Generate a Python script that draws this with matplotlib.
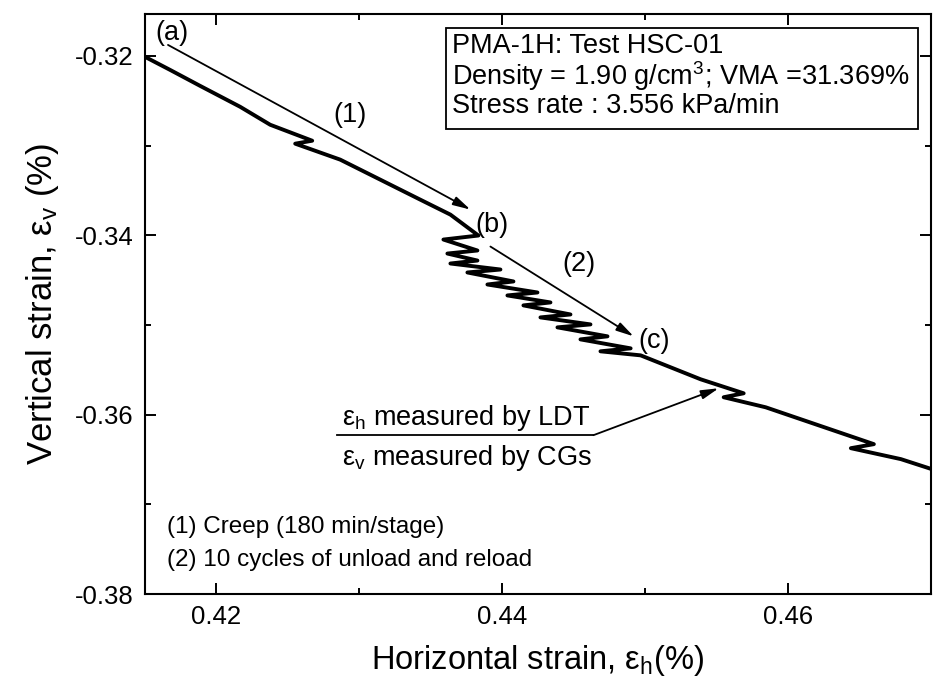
import numpy as np
import matplotlib.pyplot as plt
from matplotlib.patches import Rectangle
from matplotlib.ticker import MultipleLocator

plt.rcParams['font.family'] = ['Liberation Sans', 'DejaVu Sans']
plt.rcParams['mathtext.fontset'] = 'custom'
plt.rcParams['mathtext.rm'] = 'Liberation Sans'
plt.rcParams['mathtext.it'] = 'Liberation Sans:italic'

# horizontal strain (LDT) and vertical strain (CGs), in %
# creep stage (a) -> (b)
eps_h_creep = [0.41500, 0.41675, 0.41885, 0.42166, 0.42376, 0.42670, 0.42551,
               0.42866, 0.43146, 0.43426, 0.43637, 0.43833]
eps_v_creep = [-0.32011, -0.32156, -0.32334, -0.32568, -0.32768, -0.32946, -0.32979,
               -0.33157, -0.33380, -0.33603, -0.33770, -0.34003]
# unload / reload cycles (b) -> (c)
eps_h_cyc = [0.43588, 0.43826, 0.43616, 0.43826, 0.43637, 0.43987, 0.43756,
             0.44078, 0.43896, 0.44246, 0.44036, 0.44337, 0.44148, 0.44477,
             0.44267, 0.44617, 0.44386, 0.44736, 0.44547, 0.44898, 0.44687]
eps_v_cyc = [-0.34048, -0.34170, -0.34204, -0.34282, -0.34315, -0.34382, -0.34415,
             -0.34515, -0.34549, -0.34638, -0.34671, -0.34749, -0.34782, -0.34883,
             -0.34916, -0.34994, -0.35027, -0.35127, -0.35161, -0.35261, -0.35294]
# after (c)
eps_h_post = [0.44968, 0.45388, 0.45689, 0.45549, 0.45843, 0.46088, 0.46600,
              0.46439, 0.46789, 0.47006]
eps_v_post = [-0.35339, -0.35606, -0.35762, -0.35806, -0.35918, -0.36051, -0.36329,
              -0.36374, -0.36496, -0.36608]

eps_h = np.array(eps_h_creep + eps_h_cyc + eps_h_post)
eps_v = np.array(eps_v_creep + eps_v_cyc + eps_v_post)

fig = plt.figure(figsize=(9.33, 6.85), dpi=100)
ax = fig.add_axes([0.1554, 0.1328, 0.8425, 0.8468])
ax.plot(eps_h, eps_v, color='k', lw=2.8, solid_joinstyle='round', solid_capstyle='round')

ax.set_xlim(0.415, 0.47)
ax.set_ylim(-0.38, -0.31533)
ax.xaxis.set_minor_locator(MultipleLocator(0.01))
ax.yaxis.set_minor_locator(MultipleLocator(0.01))
ax.set_xticks([0.42, 0.44, 0.46])
ax.set_xticklabels(['0.42', '0.44', '0.46'])
ax.set_yticks([-0.32, -0.34, -0.36, -0.38])
ax.set_yticklabels(['-0.32', '-0.34', '-0.36', '-0.38'])
ax.tick_params(which='both', direction='in', top=True, right=True, width=1.4, labelsize=18.5)
ax.tick_params(which='major', length=8, pad=8)
ax.tick_params(which='minor', length=4.5)
for s in ax.spines.values():
    s.set_linewidth(1.5)

ax.set_xlabel(r'Horizontal strain, $\mathregular{\varepsilon_h}$(%)', fontsize=23.5, labelpad=10)
ax.set_ylabel(r'Vertical strain, $\mathregular{\varepsilon_v}$ (%)', fontsize=25, labelpad=10)

# stage arrows
arr = dict(arrowstyle='-|>,head_length=0.7,head_width=0.18', color='k', lw=1.3,
           mutation_scale=15, shrinkA=0, shrinkB=0)
ax.annotate('', xy=(0.43777, -0.33714), xytext=(0.41661, -0.31878), arrowprops=arr)
ax.annotate('', xy=(0.44919, -0.35127), xytext=(0.43917, -0.34126), arrowprops=arr)
ax.text(0.41689, -0.31744, '(a)', fontsize=19.5, ha='center', va='center')
ax.text(0.42936, -0.32657, '(1)', fontsize=19.5, ha='center', va='center')
ax.text(0.43931, -0.33881, '(b)', fontsize=19.5, ha='center', va='center')
ax.text(0.44533, -0.34326, '(2)', fontsize=19.5, ha='center', va='center')
ax.text(0.45059, -0.35183, '(c)', fontsize=19.5, ha='center', va='center')

# measurement note with leader line
ax.plot([0.42845, 0.44638], [-0.36229, -0.36229], color='k', lw=1.3)
ax.annotate('', xy=(0.45514, -0.35706), xytext=(0.44638, -0.36229), arrowprops=arr)
ax.text(0.43749, -0.36118, r'$\mathregular{\varepsilon_h}$ measured by LDT', fontsize=19.5,
        ha='center', va='baseline')
ax.text(0.43749, -0.36563, r'$\mathregular{\varepsilon_v}$ measured by CGs', fontsize=19.5,
        ha='center', va='baseline')

# test info box
ax.add_patch(Rectangle((0.383, 0.802), 0.6005, 0.1739, transform=ax.transAxes,
                       fill=False, ec='k', lw=1.3))
ax.text(0.3906, 0.9328, 'PMA-1H: Test HSC-01', transform=ax.transAxes, fontsize=19.5, va='baseline')
ax.text(0.3906, 0.8776, r'Density = 1.90 g/cm$^{\mathregular{3}}$; VMA =31.369%',
        transform=ax.transAxes, fontsize=19.5, va='baseline')
ax.text(0.3906, 0.8293, 'Stress rate : 3.556 kPa/min', transform=ax.transAxes, fontsize=19.5,
        va='baseline')

ax.text(0.028, 0.1052, '(1) Creep (180 min/stage)', transform=ax.transAxes, fontsize=17.5,
        va='baseline')
ax.text(0.028, 0.0483, '(2) 10 cycles of unload and reload', transform=ax.transAxes,
        fontsize=17.5, va='baseline')

fig.savefig('out.png', dpi=100)
